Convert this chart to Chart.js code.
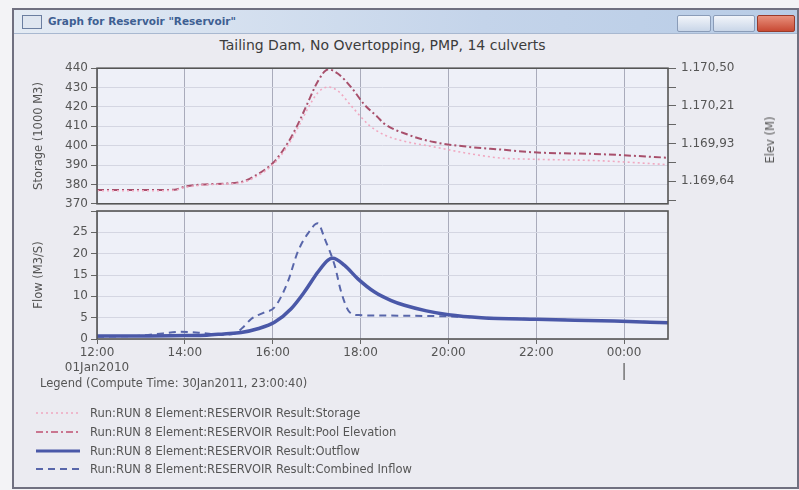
<!DOCTYPE html>
<html lang="en">
<head>
<meta charset="UTF-8">
<title>Graph for Reservoir "Reservoir"</title>
<script src="https://cdn.jsdelivr.net/npm/chart.js"></script>
<style>
  body { margin: 0; width: 799px; height: 490px; overflow: hidden; background: #f3f3f6; font-family: "DejaVu Sans", sans-serif; }
  #win { position: absolute; left: 12px; top: 8px; width: 783px; height: 477px; background: #ebebf1; border: 2px solid #707080; }
  #bar { position: absolute; left: 0; top: 0; right: 0; height: 23px; background: linear-gradient(to right, #e4ebf4, #c4d4ea 60%, #b8cce6); border-bottom: 1px solid #a8b8d0; }
  #bar .txt { position: absolute; left: 34px; top: 5px; font-size: 10.5px; font-weight: bold; color: #3e5f92; }
  #bar .ico { position: absolute; left: 8px; top: 5px; width: 18px; height: 12px; border: 1px solid #6b7ea0; background: #dfe6f0; }
  .btn { position: absolute; top: 5px; height: 15px; border: 1px solid #8a9cb8; border-radius: 2px; background: linear-gradient(#f2f5fa, #c9d6e8); }
  .btn.close { background: linear-gradient(#e8907c, #c84a34); border-color: #9a3a2a; }
  #title { position: absolute; left: 97px; width: 571px; top: 37px; text-align: center; font-size: 14px; color: #3c3c3c; }
  canvas { position: absolute; left: 0; }
  #elevTitle { position: absolute; left: 770px; top: 140px; font-size: 11.5px; color: #555; transform: translate(-50%, -50%) rotate(-90deg); white-space: nowrap; }
  #legend { position: absolute; left: 0; top: 0; font-size: 11.5px; color: #555; }
  #legend div { position: absolute; white-space: nowrap; }
  #legend svg { position: absolute; }
</style>
</head>
<body>
<div id="win">
  <div id="bar">
    <div class="ico"></div>
    <div class="txt">Graph for Reservoir "Reservoir"</div>
    <div class="btn" style="left:663px;width:32px"></div>
    <div class="btn" style="left:699px;width:40px"></div>
    <div class="btn close" style="left:743px;width:36px"></div>
  </div>
</div>
<div id="title">Tailing Dam, No Overtopping, PMP, 14 culverts</div>
<canvas id="top" width="799" height="160" style="top:56px"></canvas>
<canvas id="bottom" width="799" height="190" style="top:200px"></canvas>
<div id="elevTitle">Elev (M)</div>
<div id="legend">
  <div style="left:40px;top:376px">Legend (Compute Time: 30Jan2011, 23:00:40)</div>
  <svg style="left:36px;top:408px" width="44" height="10"><line x1="0" y1="5" x2="44" y2="5" stroke="#f0a8c0" stroke-width="1.5" stroke-dasharray="2,3"/></svg>
  <div style="left:90px;top:406px">Run:RUN 8 Element:RESERVOIR Result:Storage</div>
  <svg style="left:36px;top:427px" width="44" height="10"><line x1="0" y1="5" x2="44" y2="5" stroke="#c05070" stroke-width="1.5" stroke-dasharray="7,3,2,3"/></svg>
  <div style="left:90px;top:425px">Run:RUN 8 Element:RESERVOIR Result:Pool Elevation</div>
  <svg style="left:36px;top:446px" width="44" height="10"><line x1="0" y1="5" x2="44" y2="5" stroke="#4a58a8" stroke-width="3"/></svg>
  <div style="left:90px;top:444px">Run:RUN 8 Element:RESERVOIR Result:Outflow</div>
  <svg style="left:36px;top:464px" width="44" height="10"><line x1="0" y1="5" x2="44" y2="5" stroke="#5866aa" stroke-width="2" stroke-dasharray="7,5"/></svg>
  <div style="left:90px;top:462px">Run:RUN 8 Element:RESERVOIR Result:Combined Inflow</div>
</div>

<script>
// time axis in hours after 01Jan2010 12:00
const hourTicks = [0, 2, 4, 6, 8, 10, 12];
const hourLabels = [['12:00', '01Jan2010'], '14:00', '16:00', '18:00', '20:00', '22:00', '00:00'];

const storageHours = [0, 1.0, 1.76, 2.0, 2.37, 3.0, 3.28, 3.66, 4.03, 4.34, 4.57, 4.80, 5.03, 5.26, 5.48, 5.79, 6.2, 6.53, 6.9, 7.67, 8.45, 9.2, 9.95, 11.48, 13];
const storageValues = [376.7, 376.7, 377.0, 378.4, 379.6, 380.3, 380.8, 384.5, 390.7, 399.9, 409.1, 419.2, 427.4, 430.3, 428.4, 420.5, 410.5, 405.7, 402.8, 399.4, 396.0, 393.6, 393.0, 392.2, 390.2];

const elevHours = [0, 1.0, 1.76, 2.0, 2.37, 3.28, 3.66, 4.03, 4.34, 4.57, 4.80, 5.03, 5.26, 5.48, 5.79, 6.09, 6.39, 6.53, 7.08, 7.67, 8.45, 9.2, 9.95, 11.48, 13];
const elevValues = [1169.576, 1169.576, 1169.578, 1169.602, 1169.618, 1169.638, 1169.696, 1169.790, 1169.931, 1170.072, 1170.239, 1170.401, 1170.491, 1170.460, 1170.354, 1170.223, 1170.129, 1170.082, 1169.996, 1169.940, 1169.904, 1169.883, 1169.862, 1169.848, 1169.821];

const outflowHours = [0, 1.0, 2.0, 2.5, 2.89, 3.28, 3.66, 4.04, 4.42, 4.72, 5.03, 5.26, 5.37, 5.63, 5.94, 6.32, 6.7, 7.0, 7.5, 8.0, 8.75, 10.0, 11.78, 13];
const outflowValues = [0.7, 0.7, 0.8, 0.9, 1.2, 1.5, 2.4, 3.9, 7.1, 11.0, 15.7, 18.5, 18.9, 17.3, 14.1, 11.0, 9.0, 7.9, 6.6, 5.7, 5.0, 4.6, 4.2, 3.8];

const inflowHours = [0, 1.0, 1.5, 1.9, 2.4, 2.8, 3.12, 3.35, 3.51, 3.8, 4.04, 4.34, 4.57, 4.80, 5.03, 5.18, 5.41, 5.56, 5.75, 5.95, 6.5, 7.5, 8.3, 8.75, 10.3, 11.8, 13];
const inflowValues = [0.5, 0.8, 1.3, 1.7, 1.4, 1.0, 1.2, 3.0, 4.7, 6.2, 7.4, 13.3, 20.4, 24.7, 27.1, 23.6, 17.3, 11.0, 6.3, 5.6, 5.5, 5.4, 5.2, 5.0, 4.6, 4.2, 3.9];

// right axis (elevation) ticks, labels only on the major ones
const elevTickValues = [1170.50, 1170.357, 1170.214, 1170.071, 1169.929, 1169.786, 1169.643, 1169.500];
const elevTickLabels = ['1.170,50', '', '1.170,21', '', '1.169,93', '', '1.169,64', ''];

const pts = (xs, ys) => xs.map((x, i) => ({ x: x, y: ys[i] }));
const tickFont = { family: 'DejaVu Sans', size: 12 };
const titleFont = { family: 'DejaVu Sans', size: 11.5 };
const vGrid = '#a9abbb';
const hGrid = '#d4d6e2';

const panel = {
    id: 'panel',
    beforeDraw(chart) {
        const a = chart.chartArea, c = chart.ctx;
        c.save();
        c.fillStyle = '#eef0f8';
        c.fillRect(a.left, a.top, a.right - a.left, a.bottom - a.top);
        c.restore();
    },
    afterDraw(chart) {
        const a = chart.chartArea, c = chart.ctx;
        c.save();
        c.strokeStyle = '#555';
        c.lineWidth = 1.6;
        c.strokeRect(a.left, a.top, a.right - a.left, a.bottom - a.top);
        c.restore();
    }
};

const dayMark = {
    id: 'dayMark',
    afterDraw(chart) {
        const c = chart.ctx, x = chart.scales.x.getPixelForValue(12), b = chart.chartArea.bottom;
        c.save();
        c.strokeStyle = '#555';
        c.lineWidth = 1.2;
        c.beginPath();
        c.moveTo(x, b + 24);
        c.lineTo(x, b + 41);
        c.stroke();
        c.restore();
    }
};

const xScale = (showTicks) => ({
    type: 'linear', min: 0, max: 13,
    afterBuildTicks: s => { s.ticks = hourTicks.map(v => ({ value: v })); },
    ticks: { display: showTicks, font: tickFont, color: '#555', padding: 2, maxRotation: 0,
             callback: (v, i) => hourLabels[i] },
    grid: { color: vGrid, drawTicks: showTicks, tickLength: 5, tickColor: '#666' },
    border: { display: false }
});

new Chart(document.getElementById('top'), {
    type: 'line',
    data: {
        datasets: [
            { label: 'Storage', data: pts(storageHours, storageValues), yAxisID: 'y',
              borderColor: '#f0a8c0', borderWidth: 1.6, borderDash: [2, 3], pointRadius: 0,
              cubicInterpolationMode: 'monotone' },
            { label: 'Pool Elevation', data: pts(elevHours, elevValues), yAxisID: 'yElev',
              borderColor: '#a8506c', borderWidth: 2, borderDash: [7, 3, 2, 3], pointRadius: 0,
              cubicInterpolationMode: 'monotone' }
        ]
    },
    options: {
        responsive: false, animation: false, devicePixelRatio: 1,
        layout: { padding: { left: 30, right: 0, top: 10, bottom: 5 } },
        plugins: { legend: { display: false }, tooltip: { enabled: false } },
        scales: {
            x: Object.assign(xScale(false), { afterFit: s => { s.height = 0; } }),
            y: {
                position: 'left', min: 370, max: 440,
                ticks: { stepSize: 10, font: tickFont, color: '#555', padding: 3 },
                grid: { color: hGrid, tickColor: '#666', tickLength: 6 },
                border: { display: false },
                title: { display: true, text: 'Storage (1000 M3)', font: titleFont, color: '#555', padding: { top: 2, bottom: 0 } },
                afterFit: s => { s.width = 67; }
            },
            yElev: {
                position: 'right', min: 1169.472, max: 1170.50,
                afterBuildTicks: s => { s.ticks = elevTickValues.map(v => ({ value: v })); },
                ticks: { font: tickFont, color: '#555', padding: 5, callback: (v, i) => elevTickLabels[i] },
                grid: { drawOnChartArea: false, tickColor: '#666', tickLength: 8 },
                border: { display: false },
                afterFit: s => { s.width = 131; }
            }
        }
    },
    plugins: [panel]
});

new Chart(document.getElementById('bottom'), {
    type: 'line',
    data: {
        datasets: [
            { label: 'Outflow', data: pts(outflowHours, outflowValues),
              borderColor: '#4a58a8', borderWidth: 3.5, pointRadius: 0, cubicInterpolationMode: 'monotone' },
            { label: 'Combined Inflow', data: pts(inflowHours, inflowValues),
              borderColor: '#5866aa', borderWidth: 2, borderDash: [7, 5], pointRadius: 0, cubicInterpolationMode: 'monotone' }
        ]
    },
    options: {
        responsive: false, animation: false, devicePixelRatio: 1,
        layout: { padding: { left: 30, right: 131, top: 11, bottom: 0 } },
        plugins: { legend: { display: false }, tooltip: { enabled: false } },
        scales: {
            x: Object.assign(xScale(true), { afterFit: s => { s.height = 51; } }),
            y: {
                position: 'left', min: 0, max: 30,
                ticks: { stepSize: 5, font: tickFont, color: '#555', padding: 3,
                         callback: v => (v === 30 ? '' : v) },
                grid: { color: hGrid, tickColor: '#666', tickLength: 6 },
                border: { display: false },
                title: { display: true, text: 'Flow (M3/S)', font: titleFont, color: '#555', padding: { top: 2, bottom: 0 } },
                afterFit: s => { s.width = 67; }
            }
        }
    },
    plugins: [panel, dayMark]
});
</script>
</body>
</html>
